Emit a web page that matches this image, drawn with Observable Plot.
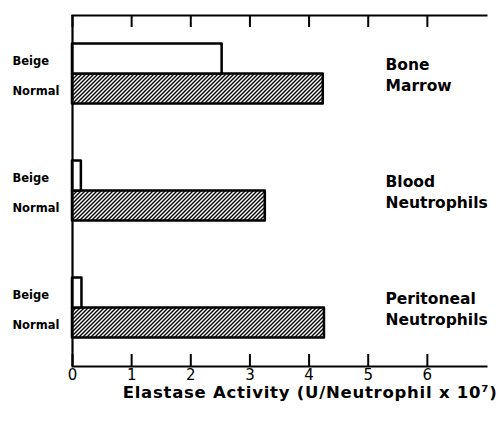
<!DOCTYPE html>
<html>
<head>
<meta charset="utf-8">
<script src="https://cdn.jsdelivr.net/npm/d3@7"></script>
<script src="https://cdn.jsdelivr.net/npm/@observablehq/plot@0.6"></script>
<style>
  html, body { margin: 0; padding: 0; background: white; }
</style>
</head>
<body>
<div id="chart"></div>
<script>
const groups = ["Bone Marrow", "Blood Neutrophils", "Peritoneal Neutrophils"];
const groupLabels = ["Bone\nMarrow", "Blood\nNeutrophils", "Peritoneal\nNeutrophils"];
const strains = ["Beige", "Normal"];
const beigeValues = [2.53, 0.15, 0.16];
const normalValues = [4.24, 3.26, 4.26];
const xTicks = [0, 1, 2, 3, 4, 5, 6];
const xLabel = "Elastase Activity (U/Neutrophil x 10\u2077)";

const beigeRows = groups.map((g, i) => ({group: g, strain: strains[0], value: beigeValues[i]}));
const normalRows = groups.map((g, i) => ({group: g, strain: strains[1], value: normalValues[i]}));

const half = 58.5, barH = 30;

const chart = Plot.plot({
  width: 499,
  height: 429,
  marginLeft: 72,
  marginRight: 13,
  marginTop: 15,
  marginBottom: 63,
  x: {domain: [0, 7], axis: null, label: null},
  y: {domain: groups, axis: null, padding: 0, label: null},
  style: {fontFamily: "DejaVu Sans", background: "white", color: "black"},
  marks: [
    Plot.barX(normalRows, {x: "value", y: "group", fill: "url(#hatch)", stroke: "black", strokeWidth: 2.5, strokeLinejoin: "round", insetTop: half, insetBottom: half - barH}),
    Plot.barX(beigeRows, {x: "value", y: "group", fill: "white", stroke: "black", strokeWidth: 2.5, strokeLinejoin: "round", insetTop: half - barH, insetBottom: half}),
    Plot.ruleX([0], {stroke: "black", strokeWidth: 2.2}),
    Plot.frame({anchor: "top", stroke: "black", strokeWidth: 2}),
    Plot.frame({anchor: "bottom", stroke: "black", strokeWidth: 2}),
    Plot.ruleX(xTicks, {stroke: "black", strokeWidth: 2, insetTop: 339}),
    Plot.ruleX(xTicks, {stroke: "black", strokeWidth: 2, insetBottom: 339}),
    Plot.text(xTicks, {x: d => d, text: d => String(d), frameAnchor: "bottom", dy: 3, lineAnchor: "top", fontSize: 15}),
    Plot.text([xLabel], {frameAnchor: "bottom-right", dx: 11, dy: 26, textAnchor: "end", lineAnchor: "middle", fontSize: 16.5, fontWeight: "bold"}),
    Plot.text(beigeRows, {y: "group", text: "strain", frameAnchor: "left", dx: -60, dy: -12.5, textAnchor: "start", fontSize: 11.5, fontWeight: "bold"}),
    Plot.text(normalRows, {y: "group", text: "strain", frameAnchor: "left", dx: -60, dy: 17, textAnchor: "start", fontSize: 11.5, fontWeight: "bold"}),
    Plot.text(groups, {y: d => d, text: (d, i) => groupLabels[i], frameAnchor: "right", dx: -101, textAnchor: "start", lineHeight: 1.35, fontSize: 15.5, fontWeight: "bold"})
  ]
});

d3.select(chart).insert("defs", ":first-child").html(
  '<pattern id="hatch" patternUnits="userSpaceOnUse" width="4" height="4">' +
  '<rect width="4" height="4" fill="white"/>' +
  '<path d="M-1,1 l2,-2 M0,4 l4,-4 M3,5 l2,-2" stroke="black" stroke-width="1.4"/>' +
  '</pattern>'
);

d3.select(chart).selectAll("text")
  .filter(function() { return this.textContent === xLabel; })
  .style("letter-spacing", "0.75px");

document.getElementById("chart").appendChild(chart);
</script>
</body>
</html>
